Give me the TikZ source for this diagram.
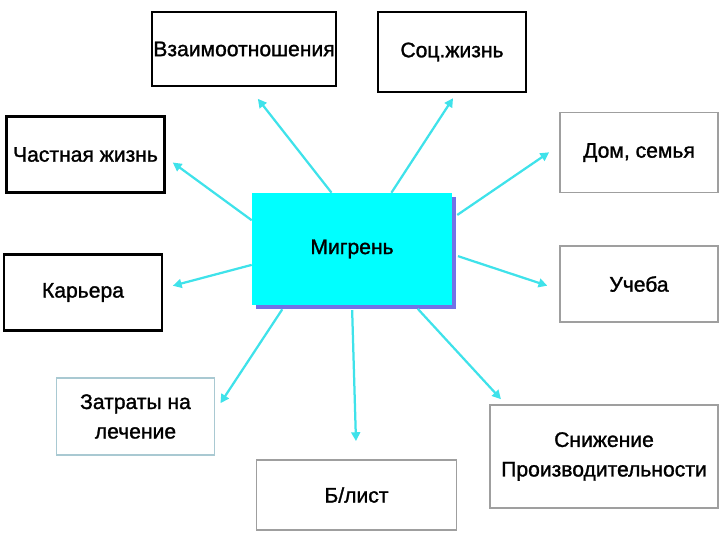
\documentclass[tikz,border=0pt]{standalone}
\usepackage{fontspec}
\setmainfont{Liberation Sans}
\newfontfamily\labelfont{Liberation Sans}[FakeBold=1.3]
\usepackage{tikz}
\usetikzlibrary{arrows.meta, shadows}
\definecolor{linkcyan}{HTML}{3FE2EA}
\definecolor{coreblue}{HTML}{00FFFF}
\definecolor{shadeblue}{HTML}{7272E6}
\definecolor{paleframe}{HTML}{A9C9D2}
\tikzstyle{topic} = [rectangle, draw=black, line width=1.6pt, fill=white,
  inner sep=1pt, align=center, font=\labelfont\fontsize{15}{21}\selectfont]
\tikzstyle{topicgray} = [topic, draw=gray!75, line width=1.3pt]
\tikzstyle{core} = [rectangle, draw=none, fill=coreblue, minimum width=5cm, minimum height=2.8cm,
  font=\labelfont\fontsize{15}{21}\selectfont,
  drop shadow={shadow xshift=2.8pt, shadow yshift=-2.8pt, fill=shadeblue, opacity=1}]
\tikzstyle{arrow} = [draw=linkcyan, line width=1.6pt, -{Triangle[length=2.2mm, width=2.2mm]},
  shorten >=0.25cm]

\begin{document}
\begin{tikzpicture}[x=0.025cm, y=-0.025cm]
    \useasboundingbox (0,0) rectangle (720,540);
    \node[core] (m) at (352,249) {Мигрень};
    \node[topic, minimum width=4.6cm, minimum height=1.85cm] (vz) at (244,49) {Взаимоотношения};
    \node[topic, minimum width=3.7cm, minimum height=2cm] (soc) at (452,52) {Соц.жизнь};
    \node[topic, minimum width=3.95cm, minimum height=1.9cm] (chast) at (85.5,154.5) {Частная жизнь};
    \node[topic, minimum width=3.95cm, minimum height=1.9cm] (kar) at (83,292.5) {Карьера};
    \node[topic, draw=paleframe, line width=1.2pt, minimum width=3.95cm, minimum height=1.92cm] (zat) at (135.5,416.5) {Затраты на\\лечение};
    \node[topicgray, minimum width=5cm, minimum height=1.75cm] (bl) at (356.5,495) {Б/лист};
    \node[topicgray, minimum width=5.7cm, minimum height=2.57cm] (sn) at (604,456.5) {Снижение\\Производительности};
    \node[topicgray, minimum width=3.95cm, minimum height=2cm] (dom) at (639,152.5) {Дом, семья};
    \node[topicgray, minimum width=3.95cm, minimum height=1.9cm] (uch) at (639,284) {Учеба};
    \draw[arrow, shorten >=0.37cm] (m.110) -- (vz.-83);
    \draw[arrow, shorten >=0.15cm] (m.55) -- (soc.-84);
    \draw[arrow, shorten >=0.22cm] (m.164) -- (chast.-2);
    \draw[arrow] (m.-171) -- (kar.3.5);
    \draw[arrow, shorten <=0.12cm, shorten >=0.23cm] (m.-140.5) -- (zat.4);
    \draw[arrow, shorten <=0.12cm, shorten >=0.45cm] (m.south) -- (bl.north);
    \draw[arrow, shorten <=0.12cm, shorten >=0.17cm] (m.-42.7) -- (sn.152.6);
    \draw[arrow, shorten <=0.15cm, shorten >=0.3cm] (m.17.8) -- (dom.175.5);
    \draw[arrow, shorten <=0.15cm, shorten >=0.31cm] (m.-3.2) -- (uch.-176.4);
  \end{tikzpicture}
\end{document}
